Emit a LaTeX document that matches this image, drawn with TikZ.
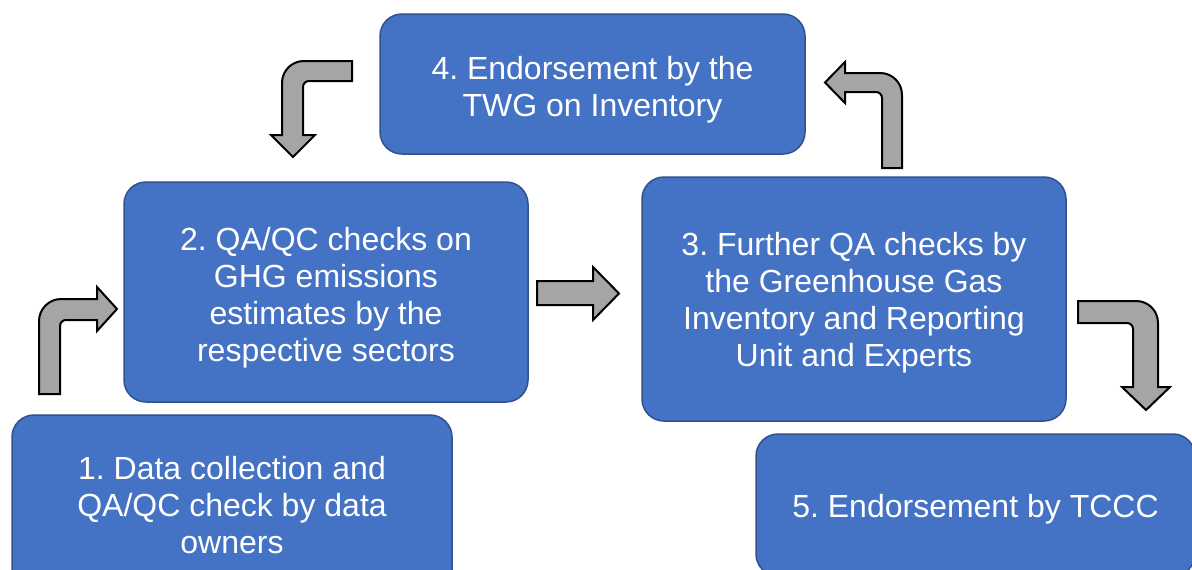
\documentclass[tikz,border=0pt]{standalone}
\usepackage{fontspec}
\setmainfont{Liberation Sans}
\frenchspacing
\definecolor{boxblue}{HTML}{4472C4}
\definecolor{boxedge}{HTML}{2F528F}
\definecolor{arrowgray}{HTML}{A5A5A5}
\tikzset{
  box/.style={draw=boxedge, line width=1.5pt, fill=boxblue, rounded corners=22pt, inner sep=0pt},
  boxtext/.style={text=white, align=center, inner sep=0pt, font=\fontsize{32}{37}\selectfont},
  blockarrow/.style={draw=black, line width=2pt, fill=arrowgray, line join=miter}
}
\begin{document}
\begin{tikzpicture}[x=1pt,y=-1pt]
\useasboundingbox (0,0) rectangle (1192,570);
\clip (0,0) rectangle (1192,570);
\fill[white] (0,0) rectangle (1192,570);

% boxes
\node[box, minimum width=425pt, minimum height=140pt] (b4) at (592.5,84) {};
\node[box, minimum width=404pt, minimum height=220pt] (b2) at (326,292) {};
\node[box, minimum width=424pt, minimum height=244pt] (b3) at (854,299) {};
\node[box, minimum width=440pt, minimum height=180pt] (b1) at (232,505) {};
\node[box, minimum width=439pt, minimum height=142pt] (b5) at (975.5,505) {};

% texts
\node[boxtext, yshift=-6pt] (t4) at (b4.center) {4. Endorsement by the\\TWG on Inventory};
\node[boxtext, yshift=-6pt] (t2) at (b2.center) {2. QA/QC checks on\\GHG emissions\\estimates by the\\respective sectors};
\node[boxtext, yshift=-4pt] (t3) at (b3.center) {3. Further QA checks by\\the Greenhouse Gas\\Inventory and Reporting\\Unit and Experts};
\node[boxtext] (t1) at (b1.center) {1. Data collection and\\QA/QC check by data\\owners};
\node[boxtext, yshift=-4pt] (t5) at (b5.center) {5. Endorsement by TCCC};

% arrow 1: up then right (1 -> 2)
\draw[blockarrow] (39,394) -- (39,321)
  .. controls (39,309.3) and (48.7,299) .. (61,299)
  -- (97,299) -- (97,287) -- (117,309) -- (97,331) -- (97,320) -- (66,320)
  .. controls (62.7,320) and (60,322.7) .. (60,326)
  -- (60,394) -- cycle;

% arrow 2: straight right (2 -> 3)
\draw[blockarrow] (537,281) -- (593,281) -- (593,267) -- (619,293.5) -- (593,320) -- (593,305) -- (537,305) -- cycle;

% arrow 3: up then left (3 -> 4)
\draw[blockarrow] (902,168) -- (902,95)
  .. controls (902,82.7) and (892.3,73) .. (880,73)
  -- (845,73) -- (845,62) -- (825,82.5) -- (845,103) -- (845,92) -- (876,92)
  .. controls (879.3,92) and (882,94.7) .. (882,98)
  -- (882,168) -- cycle;

% arrow 4: left then down (4 -> 2)
\draw[blockarrow] (352,61) -- (304,61)
  .. controls (291.7,61) and (282,70.7) .. (282,83)
  -- (282,135) -- (271,135) -- (293,157) -- (315,135) -- (303,135) -- (303,87)
  .. controls (303,83.7) and (305.7,81) .. (309,81)
  -- (352,81) -- cycle;

% arrow 5: right then down (3 -> 5)
\draw[blockarrow] (1078,301) -- (1136,301)
  .. controls (1148.3,301) and (1158,310.7) .. (1158,323)
  -- (1158,387) -- (1170,387) -- (1146,410) -- (1122,387) -- (1133,387) -- (1133,329)
  .. controls (1133,325.7) and (1130.3,323) .. (1127,323)
  -- (1078,323) -- cycle;
\end{tikzpicture}
\end{document}
